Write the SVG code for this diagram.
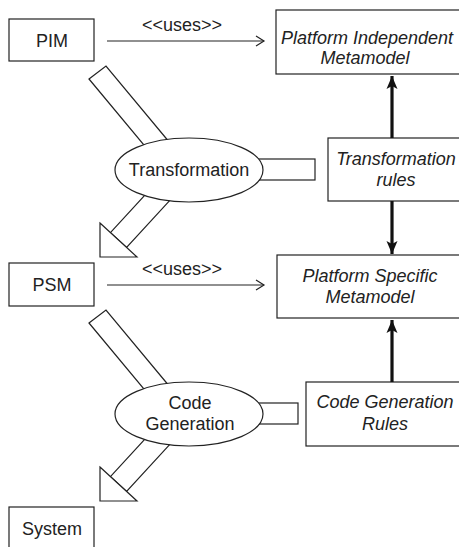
<svg xmlns="http://www.w3.org/2000/svg" width="459" height="547" viewBox="0 0 459 547">
  <style>
    .box { fill: #fff; stroke: #222; stroke-width: 1.2; }
    .flow { fill: #fff; stroke: #222; stroke-width: 1.2; stroke-linejoin: miter; }
    .t { font-family: "Liberation Sans", Arial, sans-serif; font-size: 18px; fill: #222; text-anchor: middle; }
    .it { font-style: italic; }
    .uses { fill: none; stroke: #222; stroke-width: 1.2; }
    .dep { fill: none; stroke: #111; stroke-width: 3.2; }
  </style>
  <defs>
    <marker id="open" markerWidth="12" markerHeight="12" refX="10" refY="6" orient="auto" markerUnits="userSpaceOnUse">
      <path d="M2,1 L10,6 L2,11" fill="none" stroke="#222" stroke-width="1.2"/>
    </marker>
    <marker id="solid" markerWidth="14" markerHeight="14" refX="13" refY="7" orient="auto" markerUnits="userSpaceOnUse">
      <path d="M0,1.5 L13,7 L0,12.5 L3,7 Z" fill="#111"/>
    </marker>
  </defs>

  <rect width="459" height="547" fill="#fff"/>

  <!-- transformation flow: PIM -> Transformation -> PSM -->
  <g id="transformation">
    <polygon class="flow" points="89,79 106,66 170,143 153,156"/>
    <polygon class="flow" points="110.4,232.6 126.6,247.4 174,195.8 157.8,181"/>
    <polygon class="flow" points="100,223 137,257 100,257"/>
    <rect class="flow" x="220" y="159" width="95" height="21"/>
    <ellipse class="flow" cx="189" cy="170" rx="74" ry="32"/>
    <text class="t" x="189" y="176">Transformation</text>
  </g>

  <!-- code generation flow: PSM -> Code Generation -> System -->
  <g id="code-generation">
    <polygon class="flow" points="89,323 106,310 170,387 153,400"/>
    <polygon class="flow" points="110.4,476.6 126.6,491.4 174,439.8 157.8,425"/>
    <polygon class="flow" points="100,467 137,501 100,501"/>
    <rect class="flow" x="220" y="403" width="78" height="21"/>
    <ellipse class="flow" cx="189" cy="414" rx="74" ry="32"/>
    <text class="t" x="190" y="409">Code</text>
    <text class="t" x="190" y="430">Generation</text>
  </g>

  <g id="pim">
    <rect class="box" x="9" y="19" width="85" height="42"/>
    <text class="t" x="52" y="47">PIM</text>
  </g>

  <g id="psm">
    <rect class="box" x="9" y="263" width="85" height="43"/>
    <text class="t" x="52" y="291">PSM</text>
  </g>

  <g id="system">
    <rect class="box" x="9" y="507" width="85" height="60"/>
    <text class="t" x="52" y="535">System</text>
  </g>

  <g id="pim-metamodel">
    <rect class="box" x="276" y="10" width="200" height="64"/>
    <text class="t it" x="367" y="44">Platform Independent</text>
    <text class="t it" x="365" y="64">Metamodel</text>
  </g>

  <g id="transformation-rules">
    <rect class="box" x="328" y="138" width="150" height="63"/>
    <text class="t it" x="396" y="165">Transformation</text>
    <text class="t it" x="396" y="186">rules</text>
  </g>

  <g id="psm-metamodel">
    <rect class="box" x="277" y="255" width="200" height="63"/>
    <text class="t it" x="370" y="282">Platform Specific</text>
    <text class="t it" x="370" y="303">Metamodel</text>
  </g>

  <g id="code-generation-rules">
    <rect class="box" x="306" y="382" width="170" height="64"/>
    <text class="t it" x="385" y="408">Code Generation</text>
    <text class="t it" x="385" y="430">Rules</text>
  </g>

  <g id="connectors">
    <line class="uses" x1="107" y1="41" x2="264" y2="41" marker-end="url(#open)"/>
    <text class="t" x="182" y="31">&lt;&lt;uses&gt;&gt;</text>
    <line class="uses" x1="107" y1="285" x2="264" y2="285" marker-end="url(#open)"/>
    <text class="t" x="182" y="275">&lt;&lt;uses&gt;&gt;</text>
    <line class="dep" x1="392" y1="138" x2="392" y2="76" marker-end="url(#solid)"/>
    <line class="dep" x1="392" y1="201" x2="392" y2="254" marker-end="url(#solid)"/>
    <line class="dep" x1="392" y1="382" x2="392" y2="320" marker-end="url(#solid)"/>
  </g>
</svg>
